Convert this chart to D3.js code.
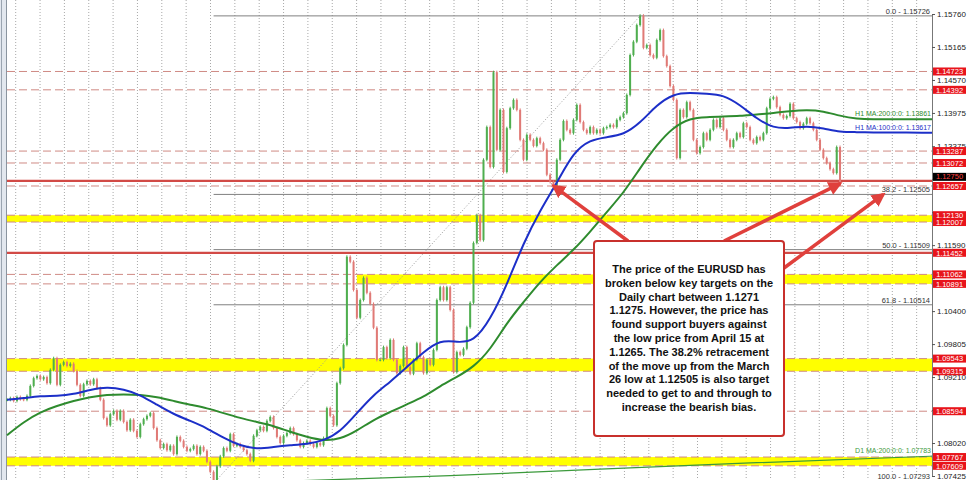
<!DOCTYPE html>
<html><head><meta charset="utf-8">
<script src="https://cdn.jsdelivr.net/npm/d3@7"></script>
<style>body{margin:0;background:#fff;} svg{display:block;font-family:"Liberation Sans",Arial,sans-serif;}</style>
</head><body><svg id="c" width="975" height="480"></svg>
<script>
// ---- data (EURUSD, H4-like candles, prices) ----
const closes = [
1.0880,1.0883,1.0878,1.0885,1.0881,1.0880,1.0887,1.0905,1.0919,1.0923,
1.0917,1.0921,1.0910,1.0934,1.0955,1.0907,1.0943,1.0948,1.0941,1.0945,
1.0932,1.0907,1.0887,1.0908,1.0914,1.0908,1.0917,1.0901,1.0880,1.0847,
1.0834,1.0854,1.0860,1.0844,1.0860,1.0840,1.0825,1.0844,1.0824,1.0813,
1.0836,1.0845,1.0851,1.0856,1.0829,1.0807,1.0793,1.0800,1.0789,1.0797,
1.0782,1.0813,1.0806,1.0795,1.0788,1.0791,1.0797,1.0782,1.0795,1.0788,
1.0768,1.0750,1.0730,1.0760,1.0778,1.0793,1.0788,1.0818,1.0797,1.0800,
1.0795,1.0789,1.0782,1.0770,1.0815,1.0825,1.0831,1.0824,1.0842,1.0849,
1.0829,1.0813,1.0802,1.0815,1.0820,1.0829,1.0818,1.0807,1.0795,1.0802,
1.0806,1.0800,1.0795,1.0802,1.0798,1.0811,1.0865,1.0851,1.0834,1.0910,
1.0937,1.0979,1.1138,1.1129,1.1078,1.1028,1.1060,1.1100,1.1073,1.1053,
1.1010,1.0952,1.0952,1.0975,1.0955,1.0988,1.0952,1.0928,1.0941,1.0975,
1.0939,1.0927,1.0952,1.0982,1.0957,1.0928,1.0952,1.0943,1.0970,1.1060,
1.1083,1.1060,1.1083,1.1042,1.0930,1.0966,1.0961,1.0972,1.1011,1.1055,
1.1163,1.1213,1.1168,1.1313,1.1372,1.1300,1.1471,1.1331,1.1403,1.1291,
1.1370,1.1406,1.1421,1.1403,1.1349,1.1313,1.1358,1.1349,1.1338,1.1352,
1.1343,1.1331,1.1286,1.1273,1.1266,1.1313,1.1349,1.1383,1.1367,1.1361,
1.1385,1.1412,1.1381,1.1367,1.1361,1.1372,1.1361,1.1367,1.1361,1.1370,
1.1372,1.1376,1.1372,1.1385,1.1390,1.1397,1.1430,1.1502,1.1526,1.1556,
1.1573,1.1515,1.1520,1.1502,1.1497,1.1529,1.1547,1.1500,1.1482,1.1446,
1.1421,1.1316,1.1403,1.1390,1.1417,1.1403,1.1349,1.1325,1.1336,1.1361,
1.1349,1.1367,1.1385,1.1372,1.1388,1.1367,1.1349,1.1336,1.1349,1.1361,
1.1354,1.1379,1.1372,1.1349,1.1343,1.1354,1.1349,1.1361,1.1406,1.1423,
1.1426,1.1408,1.1394,1.1388,1.1392,1.1414,1.1388,1.1381,1.1370,1.1378,
1.1388,1.1379,1.1367,1.1349,1.1331,1.1316,1.1307,1.1296,1.1289,1.1336,
1.1268];
const maStep = 5;          // MA samples every 5 candles
const maLastIndex = 277.6; // right edge of the chart (time index)
const blueMA = [
1.0880,1.0883,1.0887,1.0887,1.0890,1.0898,1.0903,1.0899,1.0889,1.0871,
1.0854,1.0842,1.0829,1.0811,1.0797,1.0791,1.0795,1.0798,1.0800,1.0806,
1.0822,1.0856,1.0889,1.0912,1.0939,1.0966,1.0988,1.0984,1.0984,1.1024,
1.1087,1.1163,1.1222,1.1271,1.1327,1.1349,1.1354,1.1358,1.1379,1.1412,
1.1432,1.1434,1.1432,1.1430,1.1412,1.1387,1.1370,1.1370,1.1374,1.1370,
1.1363,1.1363,1.1362,1.1362,1.1362,1.1362,1.13617];
const greenMA = [
1.0816,1.0840,1.0858,1.0869,1.0878,1.0885,1.0889,1.0890,1.0889,1.0885,
1.0878,1.0871,1.0865,1.0856,1.0847,1.0840,1.0833,1.0822,1.0813,1.0806,
1.0809,1.0824,1.0844,1.0858,1.0872,1.0885,1.0905,1.0921,1.0939,1.0970,
1.1019,1.1056,1.1093,1.1123,1.1150,1.1183,1.1219,1.1253,1.1298,1.1340,
1.1372,1.1388,1.1390,1.1391,1.1392,1.1395,1.1397,1.1401,1.1403,1.1401,
1.1392,1.1387,1.1386,1.1386,1.1386,1.1386,1.13861];
const d1Index = [88,133,178,223,277.6];
const d1MA = [1.0734,1.0743,1.0755,1.0766,1.07783];

const dashedLevels = [1.14723,1.14392,1.13287,1.13072,1.12657,1.12130,1.12007,1.11062,1.10891,1.09543,1.09315,1.08594,1.07767,1.07609];
const solidLevels = [1.12750,1.11452];
const bandTop = [1.12130,1.11062,1.09543,1.07767];
const bandBottom = [1.12007,1.10891,1.09315,1.07609];
const bandStart = [0,105,0,0];
const redLabels = [1.14723,1.14392,1.13287,1.13072,1.12657,1.12130,1.12007,1.11452,1.11062,1.10891,1.09543,1.09315,1.08594,1.07767,1.07609];
const currentPrice = 1.12750;
const axisTicks = [1.15760,1.15165,1.14570,1.13975,1.13375,1.12780,1.12185,1.11590,1.10995,1.10400,1.09805,1.09210,1.08615,1.08020,1.07425];
const hiddenTickLabels = [1.12780,1.12185,1.10995,1.08615]; // fully covered by price labels
const fibPct = ["0.0","38.2","50.0","61.8","100.0"];
const fibPrices = [1.15726,1.12505,1.11509,1.10514,1.07293];
const fibLowIndex = 62, fibHighIndex = 190;
const maLabels = ["H1 MA:200:0:0: 1.13861","H1 MA:100:0:0: 1.13617","D1 MA:200:0:0: 1.07783"];
const noteLines = [
"The price of the EURUSD has",
"broken below key targets on the",
"Daily chart between 1.1271",
"1.1275. However, the price has",
"found support buyers against",
"the low price from April 15 at",
"1.1265. The 38.2% retracement",
"of the move up from the March",
"26 low at 1.12505 is also target",
"needed to get to and through to",
"increase the bearish bias."];

// ---- drawing ----
const svg = d3.select("#c");
const L = 7, R = 932, H = 480;
const x = d3.scaleLinear().domain([0, maLastIndex]).range([L, R]);
const y = d3.scaleLinear().domain([1.07425, 1.15760]).range([476, 14]);

svg.append("rect").attr("width",975).attr("height",480).attr("fill","#fff");

// left frame bar
svg.append("rect").attr("x",0).attr("y",0).attr("width",7).attr("height",H).attr("fill","#e2e7ee");
svg.append("line").attr("x1",1.5).attr("x2",1.5).attr("y1",0).attr("y2",H).attr("stroke","#9aa4b0");
svg.append("line").attr("x1",6.5).attr("x2",6.5).attr("y1",0).attr("y2",H).attr("stroke","#8a949f");

// vertical dotted grid
const grid = svg.append("g");
d3.range(15.7, R, 24.35).forEach(gx=>{
  grid.append("line").attr("x1",gx).attr("x2",gx).attr("y1",0).attr("y2",H)
    .attr("stroke","#a8a8a8").attr("stroke-dasharray","1,2");
});

// yellow bands
bandTop.forEach((t,i)=>{
  svg.append("rect").attr("x",x(bandStart[i])).attr("y",y(t))
    .attr("width",R-x(bandStart[i])).attr("height",y(bandBottom[i])-y(t))
    .attr("fill","#ffff00");
});

// dashed red levels
dashedLevels.forEach(p=>{
  svg.append("line").attr("x1",L).attr("x2",R).attr("y1",y(p)).attr("y2",y(p))
    .attr("stroke","#cf8a84").attr("stroke-width",1).attr("stroke-dasharray","8,4");
});

// fibonacci lines
fibPrices.forEach((p,i)=>{
  svg.append("line").attr("x1",x(fibLowIndex)).attr("x2",R).attr("y1",y(p)).attr("y2",y(p))
    .attr("stroke","#808080").attr("stroke-width",1);
  svg.append("text").attr("x",R-2).attr("y",Math.min(y(p)-2, 479)).attr("text-anchor","end")
    .attr("font-size",7.5).attr("fill","#333").text(fibPct[i]+" - "+d3.format(".5f")(p));
});
svg.append("line").attr("x1",x(fibLowIndex)).attr("y1",y(fibPrices[4]))
  .attr("x2",x(fibHighIndex)).attr("y2",y(fibPrices[0]))
  .attr("stroke","#999").attr("stroke-dasharray","1,2");

// solid red levels
solidLevels.forEach(p=>{
  svg.append("line").attr("x1",L).attr("x2",R).attr("y1",y(p)).attr("y2",y(p))
    .attr("stroke","#d24a46").attr("stroke-width",2.2);
});

// D1 MA
svg.append("path").datum(d1Index.map((d,i)=>[d,d1MA[i]]))
  .attr("d", d3.line().x(d=>x(d[0])).y(d=>y(d[1])).curve(d3.curveMonotoneX))
  .attr("fill","none").attr("stroke","#3c9a3c").attr("stroke-width",1.2);

// candles
const cg = svg.append("g");
closes.forEach((c,i)=>{
  const o = i ? closes[i-1] : c;
  const up = c >= o;
  const col = up ? "#4fae4f" : "#e07a76";
  const y0 = y(Math.max(o,c)), y1 = y(Math.min(o,c));
  cg.append("line").attr("x1",x(i)).attr("x2",x(i)).attr("y1",y0-1.5).attr("y2",y1+1.5)
    .attr("stroke",col).attr("stroke-width",1);
  cg.append("rect").attr("x",x(i)-1).attr("y",y0).attr("width",2).attr("height",Math.max(1,y1-y0))
    .attr("fill",col);
});

// moving averages
function drawMA(arr,color){
  const pts = arr.map((v,i)=>[i===arr.length-1 ? maLastIndex : i*maStep, v]);
  svg.append("path").datum(pts)
    .attr("d", d3.line().x(d=>x(d[0])).y(d=>y(d[1])).curve(d3.curveBasis))
    .attr("fill","none").attr("stroke",color).attr("stroke-width",2);
}
drawMA(greenMA,"#2e8b2e");
drawMA(blueMA,"#1c2fc8");

// MA labels
svg.append("text").attr("x",R-1).attr("y",y(greenMA[greenMA.length-1])-3).attr("text-anchor","end")
  .attr("font-size",7).attr("fill","#2e8b2e").text(maLabels[0]);
svg.append("text").attr("x",R-1).attr("y",y(blueMA[blueMA.length-1])-3).attr("text-anchor","end")
  .attr("font-size",7).attr("fill","#1c2fc8").text(maLabels[1]);
svg.append("text").attr("x",R-1).attr("y",y(d1MA[d1MA.length-1])-3).attr("text-anchor","end")
  .attr("font-size",7).attr("fill","#3c9a3c").text(maLabels[2]);

// right axis
const fmt = d3.format(".5f");
const ax = svg.append("g").attr("transform",`translate(${R},0)`)
  .call(d3.axisRight(y).tickValues(axisTicks)
    .tickFormat(d => hiddenTickLabels.includes(d) ? "" : fmt(d)).tickSize(3).tickPadding(2));
ax.select(".domain").attr("stroke","#777");
ax.selectAll(".tick line").attr("stroke","#555");
ax.selectAll("text").attr("font-size",8).attr("fill","#222").attr("font-family","Liberation Sans, Arial");

// current price label (black)
svg.append("rect").attr("x",R+1).attr("y",y(currentPrice)-8).attr("width",33).attr("height",8).attr("fill","#000");
svg.append("text").attr("x",R+17.5).attr("y",y(currentPrice)-1.5).attr("text-anchor","middle")
  .attr("font-size",7.5).attr("fill","#ff4040").text(fmt(currentPrice));

// red price labels
redLabels.forEach(p=>{
  svg.append("rect").attr("x",R+1).attr("y",y(p)-4).attr("width",33).attr("height",8).attr("fill","#e8141b");
  svg.append("text").attr("x",R+17.5).attr("y",y(p)+2.8).attr("text-anchor","middle")
    .attr("font-size",7.5).attr("fill","#fff").text(fmt(p));
});

// arrows
const defs = svg.append("defs");
defs.append("marker").attr("id","ah").attr("viewBox","0 0 10 10").attr("refX",8).attr("refY",5)
  .attr("markerWidth",4).attr("markerHeight",4).attr("orient","auto")
  .append("path").attr("d","M0,0L10,5L0,10z").attr("fill","#e0403c");
const arrows = [
  {x1:628,y1:241,x2:x(164),y2:y(1.1266)},
  {x1:724,y1:241,x2:x(250),y2:y(1.1270)},
  {x1:784,y1:268,x2:x(263),y2:y(fibPrices[1])}
];
arrows.forEach(a=>{
  svg.append("line").attr("x1",a.x1).attr("y1",a.y1).attr("x2",a.x2).attr("y2",a.y2)
    .attr("stroke","#e0403c").attr("stroke-width",3.5).attr("marker-end","url(#ah)");
});

// note box
svg.append("rect").attr("x",594).attr("y",241).attr("width",190).attr("height",195).attr("rx",3)
  .attr("fill","#fff").attr("stroke","#c8302c").attr("stroke-width",2);
const nt = svg.append("text").attr("text-anchor","middle").attr("font-size",11).attr("font-weight","bold").attr("fill","#111");
noteLines.forEach((l,i)=>{
  nt.append("tspan").attr("x",689).attr("y",273+i*13.8).text(l);
});
</script></body></html>
